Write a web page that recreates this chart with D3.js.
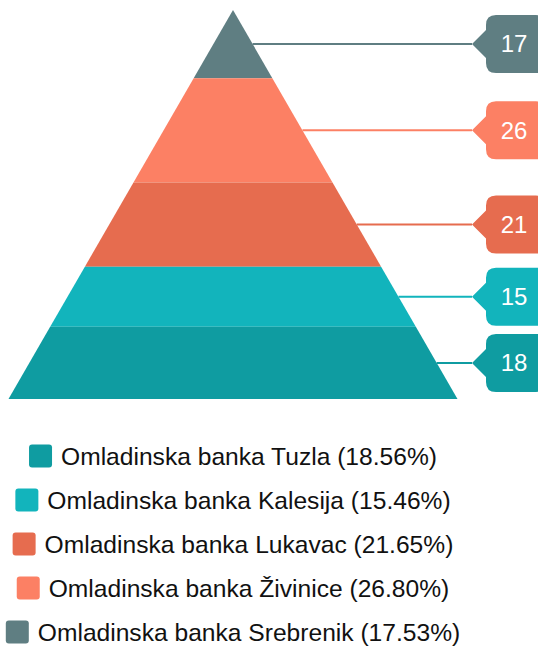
<!DOCTYPE html>
<html>
<head>
<meta charset="utf-8">
<script src="https://cdn.jsdelivr.net/npm/d3@7"></script>
<style>
  body { margin: 0; background: #fff; }
  svg { display: block; font-family: 'Liberation Sans', Arial, sans-serif; }
</style>
</head>
<body>
<div id="chart"></div>
<script>
// Podaci (odozdo prema vrhu piramide)
const categories = ['Omladinska banka Tuzla', 'Omladinska banka Kalesija', 'Omladinska banka Lukavac', 'Omladinska banka Živinice', 'Omladinska banka Srebrenik'];
const values = [18, 15, 21, 26, 17];
const colors = ['#0f9ca1', '#12b4bc', '#e66c4f', '#fc8064', '#5f7e82'];

const config = {
  width: 538,
  height: 646,
  apexX: 233,
  top: 10,
  base: 399,
  halfBase: 224.5,
  labelTip: 472,
  boxX: 486,
  legendTop: 456,
  legendStep: 44
};

const svg = d3.select('#chart').append('svg')
  .attr('width', config.width)
  .attr('height', config.height);

const total = d3.sum(values);

// Piramida se crta od vrha: obrnuti redoslijed
const stack = [];
let acc = 0;
for (let i = values.length - 1; i >= 0; i--) {
  stack.push({ name: categories[i], value: values[i], color: colors[i], y0: acc, y1: acc + values[i] });
  acc += values[i];
}

const yScale = d3.scaleLinear().domain([0, total]).range([config.top, config.base]);
const halfWidth = d3.scaleLinear().domain([config.top, config.base]).range([0, config.halfBase]);

const pyramid = svg.append('g').attr('class', 'pyramid');

pyramid.selectAll('path')
  .data(stack)
  .enter()
  .append('path')
  .attr('d', d => {
    const ya = yScale(d.y0), yb = yScale(d.y1);
    const wa = halfWidth(ya), wb = halfWidth(yb);
    return `M${config.apexX - wa},${ya}L${config.apexX + wa},${ya}L${config.apexX + wb},${yb}L${config.apexX - wb},${yb}Z`;
  })
  .attr('fill', d => d.color);

// Linije i oznake vrijednosti
const labels = svg.append('g').attr('class', 'labels');

labels.selectAll('line')
  .data(stack)
  .enter()
  .append('line')
  .attr('x1', d => config.apexX + halfWidth(yScale((d.y0 + d.y1) / 2)))
  .attr('x2', config.labelTip)
  .attr('y1', d => yScale((d.y0 + d.y1) / 2))
  .attr('y2', d => yScale((d.y0 + d.y1) / 2))
  .attr('stroke', d => d.color)
  .attr('stroke-width', 2);

function callout (cy) {
  const x = config.boxX, r = 10, h = 58, w = 60, t = cy - h / 2, b = cy + h / 2;
  return `M${config.labelTip},${cy}L${x},${cy - 14}L${x},${t + r}Q${x},${t} ${x + r},${t}` +
    `L${x + w - r},${t}Q${x + w},${t} ${x + w},${t + r}L${x + w},${b - r}Q${x + w},${b} ${x + w - r},${b}` +
    `L${x + r},${b}Q${x},${b} ${x},${b - r}L${x},${cy + 14}Z`;
}

labels.selectAll('path')
  .data(stack)
  .enter()
  .append('path')
  .attr('d', d => callout(yScale((d.y0 + d.y1) / 2)))
  .attr('fill', d => d.color);

labels.selectAll('text')
  .data(stack)
  .enter()
  .append('text')
  .attr('x', 514)
  .attr('y', d => yScale((d.y0 + d.y1) / 2))
  .attr('dy', '0.35em')
  .attr('text-anchor', 'middle')
  .attr('fill', '#fff')
  .attr('font-size', 24)
  .text(d => d.value);

// Legenda
const legend = svg.append('g').attr('class', 'legend');

categories.forEach((name, i) => {
  const row = legend.append('g');
  const cy = config.legendTop + i * config.legendStep;
  const txt = row.append('text')
    .attr('y', cy)
    .attr('dy', '0.35em')
    .attr('font-size', 24.6)
    .attr('fill', '#111')
    .text(`${name} (${(values[i] / total * 100).toFixed(2)}%)`);
  const tw = txt.node().getComputedTextLength();
  const full = 23 + 9 + tw;
  const x0 = config.apexX - full / 2;
  row.append('rect')
    .attr('x', x0)
    .attr('y', cy - 11.5)
    .attr('width', 23)
    .attr('height', 23)
    .attr('rx', 3)
    .attr('fill', colors[i]);
  txt.attr('x', x0 + 32);
});
</script>
</body>
</html>
